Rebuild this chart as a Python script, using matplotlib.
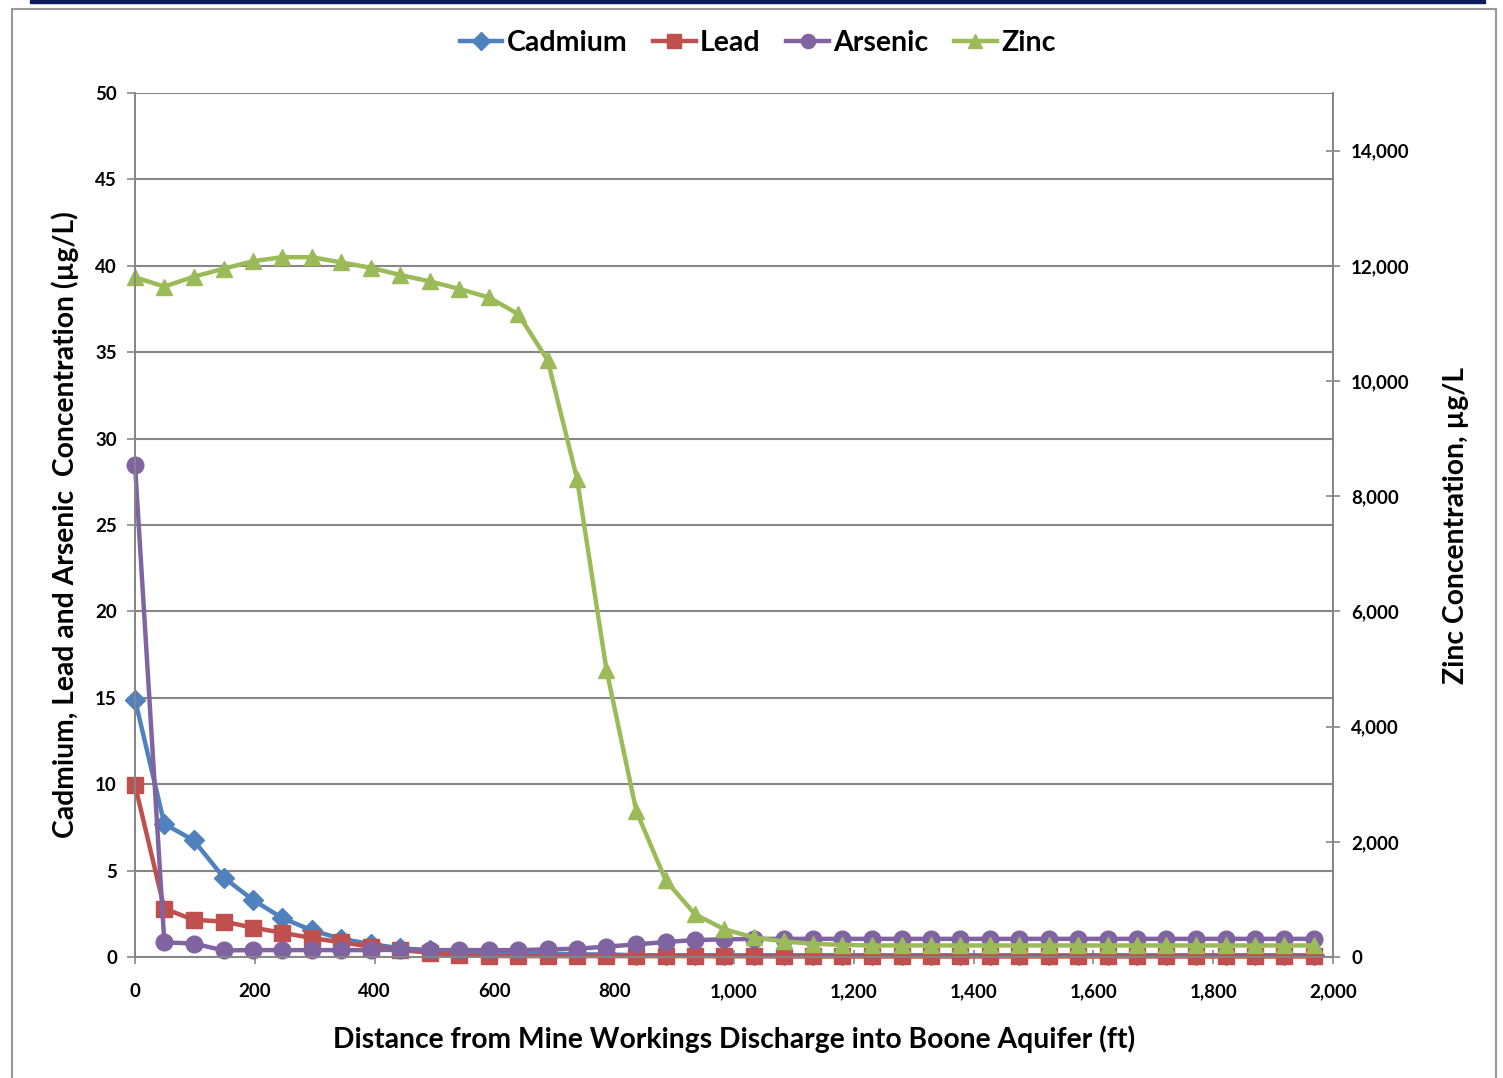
import matplotlib.pyplot as plt
from matplotlib.patches import Rectangle
from matplotlib.ticker import FuncFormatter, MultipleLocator

plt.rcParams['font.family'] = ['Lato', 'DejaVu Sans']
plt.rcParams['font.weight'] = 'bold'

# distance along the flow path, 15 m station spacing expressed in feet
distance_ft = [0, 49, 98, 148, 197, 246, 295, 344, 394, 443, 492, 541, 591, 640,
               689, 738, 787, 837, 886, 935, 984, 1033, 1083, 1132, 1181, 1230,
               1280, 1329, 1378, 1427, 1476, 1526, 1575, 1624, 1673, 1722, 1772,
               1821, 1870, 1919, 1969]

cadmium = [14.9, 7.7, 6.75, 4.6, 3.3, 2.25, 1.55, 1.05, 0.75, 0.5, 0.4, 0.3, 0.25,
           0.2, 0.2, 0.15, 0.15, 0.1, 0.1, 0.1, 0.1, 0.1, 0.1, 0.1, 0.1, 0.1, 0.1,
           0.1, 0.1, 0.1, 0.1, 0.1, 0.1, 0.1, 0.1, 0.1, 0.1, 0.1, 0.1, 0.1, 0.1]

lead = [9.95, 2.8, 2.15, 2.05, 1.7, 1.4, 1.1, 0.85, 0.6, 0.4, 0.25, 0.1, 0.06,
        0.05, 0.05, 0.05, 0.05, 0.05, 0.05, 0.05, 0.04, 0.04, 0.03, 0.03, 0.03,
        0.03, 0.03, 0.03, 0.03, 0.03, 0.03, 0.03, 0.03, 0.03, 0.03, 0.03, 0.03,
        0.03, 0.03, 0.03, 0.03]

arsenic = [28.5, 0.85, 0.78, 0.38, 0.4, 0.4, 0.4, 0.4, 0.4, 0.42, 0.4, 0.4, 0.4,
           0.4, 0.44, 0.48, 0.6, 0.73, 0.87, 0.98, 1.02, 1.05, 1.05, 1.05, 1.05,
           1.05, 1.05, 1.05, 1.05, 1.05, 1.05, 1.05, 1.05, 1.05, 1.05, 1.05, 1.05,
           1.05, 1.05, 1.05, 1.05]

zinc = [11800, 11640, 11810, 11950, 12080, 12150, 12150, 12060, 11965, 11840,
        11730, 11600, 11450, 11160, 10360, 8300, 4990, 2530, 1330, 740, 480, 340,
        270, 230, 210, 200, 200, 200, 200, 200, 200, 200, 200, 200, 200, 200, 200,
        200, 200, 200, 200]

BLUE, RED, PURPLE, GREEN = '#4F81BD', '#C0504D', '#8064A2', '#9BBB59'
GRID = '#868686'

fig = plt.figure(figsize=(15.03, 10.78), dpi=100)

# outer chart frame and the dark band above it
fig.patches.append(Rectangle((30 / 1503, 1 - 3 / 1078), 1455 / 1503, 3 / 1078,
                             transform=fig.transFigure, color='#0C1A5E', zorder=0))
fig.patches.append(Rectangle((12 / 1503, -0.01), 1484 / 1503, 1.01 - 9 / 1078,
                             transform=fig.transFigure, fill=False,
                             edgecolor='#9A9A9A', lw=1.5, zorder=0))

ax = fig.add_axes([135 / 1503, 1 - 957 / 1078, 1198 / 1503, 864 / 1078])
ax2 = ax.twinx()

lw, ms = 3.2, 12
l1, = ax.plot(distance_ft, cadmium, color=BLUE, lw=lw, marker='D', ms=ms * 0.85,
              label='Cadmium', clip_on=False)
l2, = ax.plot(distance_ft, lead, color=RED, lw=lw, marker='s', ms=ms,
              label='Lead', clip_on=False)
l3, = ax.plot(distance_ft, arsenic, color=PURPLE, lw=lw, marker='o', ms=ms,
              label='Arsenic', clip_on=False)
l4, = ax2.plot(distance_ft, zinc, color=GREEN, lw=lw, marker='^', ms=ms,
               label='Zinc', clip_on=False)

ax.set_xlim(0, 2000)
ax.set_ylim(0, 50)
ax2.set_ylim(0, 15000)
ax.xaxis.set_major_locator(MultipleLocator(200))
ax.yaxis.set_major_locator(MultipleLocator(5))
ax2.set_yticks(range(0, 14001, 2000))

comma = FuncFormatter(lambda v, p: f'{int(v):,}')
ax.xaxis.set_major_formatter(comma)
ax2.yaxis.set_major_formatter(comma)

ax.grid(axis='y', color=GRID, lw=1.5)
ax.set_axisbelow(True)
for a in (ax, ax2):
    for side in ('left', 'right', 'bottom'):
        a.spines[side].set_color(GRID)
        a.spines[side].set_linewidth(1.3)
    a.spines['top'].set_visible(False)

ax.tick_params(axis='x', direction='inout', length=10, color=GRID, width=1.2,
               labelsize=13.5, pad=14)
ax.tick_params(axis='y', direction='out', length=6, color=GRID, width=1.2,
               labelsize=13.5, pad=7)
ax2.tick_params(axis='y', direction='inout', length=10, color=GRID, width=1.2,
                labelsize=13.5, pad=8)

ax.set_xlabel('Distance from Mine Workings Discharge into Boone Aquifer (ft)',
              fontsize=20.3, fontweight='bold', labelpad=18)
ax.set_ylabel('Cadmium, Lead and Arsenic  Concentration (\u00b5g/L)',
              fontsize=20.3, fontweight='bold', labelpad=12)
ax2.set_ylabel('Zinc Concentration, \u00b5g/L', fontsize=20.3, fontweight='bold',
               labelpad=24)

fig.legend(handles=[l1, l2, l3, l4], loc='center', bbox_to_anchor=(0.504, 0.96),
           ncol=4, frameon=False, fontsize=20.5, handlelength=1.5,
           handletextpad=0.15, columnspacing=0.9, markerscale=0.85)

fig.savefig('out.png', dpi=100, facecolor='white')
